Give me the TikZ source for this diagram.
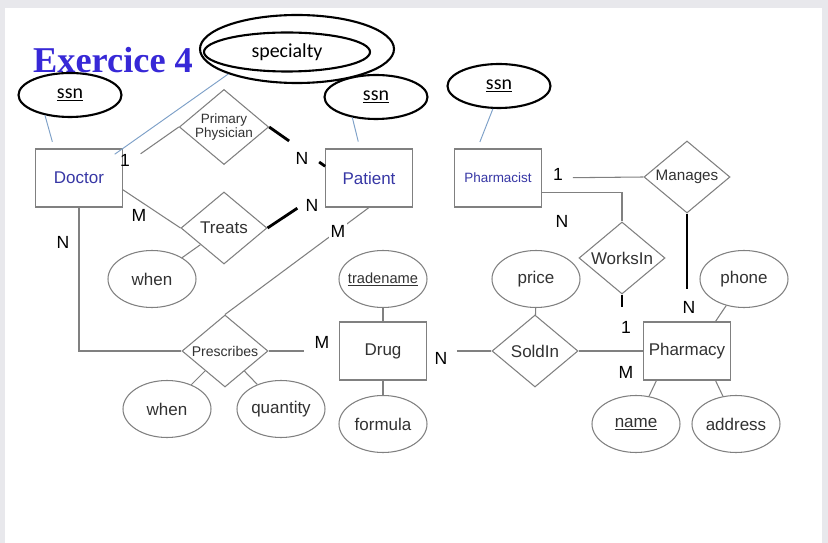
\documentclass[tikz,border=0pt]{standalone}
\usepackage{fontspec}
\setmainfont{Liberation Sans}
\newfontfamily\titlefont{Liberation Serif}
\newfontfamily\keyfont{Carlito}
\definecolor{erLine}{RGB}{128,128,128}
\definecolor{erLink}{RGB}{125,160,200}
\definecolor{erName}{RGB}{55,55,165}
\definecolor{erTitle}{RGB}{55,40,215}
\definecolor{erFrame}{RGB}{232,232,236}
\definecolor{erText}{RGB}{50,50,50}
\usetikzlibrary{shapes,positioning}

\begin{document}
\begin{tikzpicture}[x=0.03cm,y=-0.03cm,
    txt/.style={font=\fontsize{14.5}{16}\selectfont, text=erText},
    entity/.style={draw=erLine, line width=0.9pt, fill=white, minimum width=2.6cm, minimum height=1.74cm, inner sep=0pt, txt},
    relation/.style={diamond, draw=erLine, line width=0.9pt, fill=white, minimum width=2.58cm, minimum height=2.16cm, aspect=1.19, inner sep=0pt, txt},
    attr/.style={ellipse, draw=erLine, line width=0.9pt, fill=white, minimum width=2.64cm, minimum height=1.71cm, inner sep=0pt, txt},
    keyattr/.style={ellipse, draw=black, line width=1.8pt, minimum width=3.09cm, minimum height=1.32cm, inner sep=0pt, font=\keyfont\fontsize{17}{19}\selectfont},
    card/.style={font=\fontsize{15}{17}\selectfont, text=black, inner sep=1.5pt},
    rel/.style={draw=erLine, line width=0.9pt},
    total/.style={draw=black, line width=2.4pt},
    link/.style={draw=erLink, line width=0.8pt}]
    % slide frame
    \fill[erFrame] (0,0) rectangle (828,543);
    \fill[white] (5,8) rectangle (822,543);
    \node[anchor=base west, text=erTitle, font=\titlefont\bfseries\fontsize{31}{34}\selectfont, inner sep=0pt] (title) at (33,73) {Exercice 4};

    % entities
    \node[entity, text=erName] (doctor) at (79,178) {Doctor};
    \node[entity, text=erName] (patient) at (369,178) {Patient};
    \node[entity, text=erName, font=\fontsize{11.5}{13}\selectfont] (pharmacist) at (498,178) {Pharmacist};
    \node[entity] (drug) at (383,351) {Drug};
    \node[entity] (pharmacy) at (687,351) {Pharmacy};

    % relationships
    \node[relation, font=\fontsize{11.5}{12}\selectfont, align=center] (pp) at (224,127) {Primary\\Physician};
    \node[relation] (treats) at (224,228) {Treats};
    \node[relation, font=\fontsize{12}{13}\selectfont] (presc) at (225,351) {Prescribes};
    \node[relation] (soldin) at (535,351) {SoldIn};
    \node[relation] (worksin) at (622,258) {WorksIn};
    \node[relation, font=\fontsize{13}{14}\selectfont] (manages) at (687,177) {Manages};

    % attributes
    \node[keyattr] (ssnD) at (70,95) {\underline{ssn}};
    \node[keyattr] (ssnP) at (376,97) {\underline{ssn}};
    \node[keyattr] (ssnPh) at (499,86) {\underline{ssn}};
    \node[keyattr, minimum width=5.82cm, minimum height=2.04cm] (specOut) at (297,49) {};
    \node[keyattr, minimum width=4.98cm, minimum height=1.17cm] (specialty) at (287,52) {specialty};
    \node[attr] (whenT) at (152,279) {when};
    \node[attr] (whenP) at (167,409) {when};
    \node[attr] (quantity) at (281,409) {quantity};
    \node[attr, font=\fontsize{12.5}{14}\selectfont] (tradename) at (383,279) {\makebox[0pt]{\underline{tradename}}};
    \node[attr] (formula) at (383,424) {formula};
    \node[attr] (price) at (536,279) {price};
    \node[attr] (phone) at (744,279) {phone};
    \node[attr] (name) at (636,424) {\underline{name}};
    \node[attr] (address) at (736,424) {address};

    % key links
    \draw[link, shorten >=0.21cm] (ssnD.219) -- (doctor.130);
    \draw[link, shorten >=0.21cm] (ssnP.221) -- (patient.107);
    \draw[link, shorten >=0.21cm] (ssnPh.255) -- (pharmacist.125);
    \draw[link, shorten >=-0.3cm] (specOut.200) -- (doctor.north east);

    % attribute links
    \draw[rel] (treats) -- (whenT);
    \draw[rel] (presc) -- (whenP);
    \draw[rel] (presc) -- (quantity);
    \draw[rel] (drug) -- (tradename);
    \draw[rel] (drug) -- (formula);
    \draw[rel] (soldin) -- (price);
    \draw[rel] (pharmacy.46) -- (phone);
    \draw[rel] (pharmacy.224) -- (name);
    \draw[rel] (pharmacy.-46) -- (address);

    % relationship links
    \draw[rel, shorten <=0.65cm] (doctor.15) -- (pp.west);
    \draw[total, shorten >=1.32cm] (pp.east) -- (patient.165);
    \draw[total, shorten <=1.83cm] (pp.east) -- (patient.165);
    \draw[rel] (doctor.-15) -- (treats.west);
    \draw[total, shorten >=1cm] (treats.east) -- (patient.-165);
    \draw[rel] (doctor.south) |- (presc.west);
    \draw[rel] (patient.south) -- (presc.north);
    \draw[rel, shorten >=1.05cm] (presc.east) -- (drug.west);
    \draw[rel, shorten <=0.9cm] (drug.east) -- (soldin.west);
    \draw[rel] (soldin.east) -- (pharmacy.west);
    \draw[rel, shorten <=0.93cm] (pharmacist.east) -- (manages.west);
    \draw[rel] (pharmacist.-18) -| (worksin.north);
    \draw[total, shorten >=0.42cm] (worksin.south) -- (worksin.south |- pharmacy.north);
    \draw[total, shorten >=0.96cm] (manages.south) -- (pharmacy.north);

    % cardinalities
    \node[card] (c1) at (125,160) {1};
    \node[card] (c2) at (139,215) {M};
    \node[card] (c3) at (63,242) {N};
    \node[card] (c4) at (302,158) {N};
    \node[card, fill=white] (c5) at (312,205) {N};
    \node[card, fill=white] (c6) at (338,231) {M};
    \node[card] (c7) at (322,342) {M};
    \node[card] (c8) at (441,358) {N};
    \node[card] (c9) at (626,372) {M};
    \node[card] (c10) at (626,327) {1};
    \node[card, fill=white] (c11) at (689,307) {N};
    \node[card] (c12) at (558,174) {1};
    \node[card] (c13) at (562,221) {N};
\end{tikzpicture}
\end{document}
